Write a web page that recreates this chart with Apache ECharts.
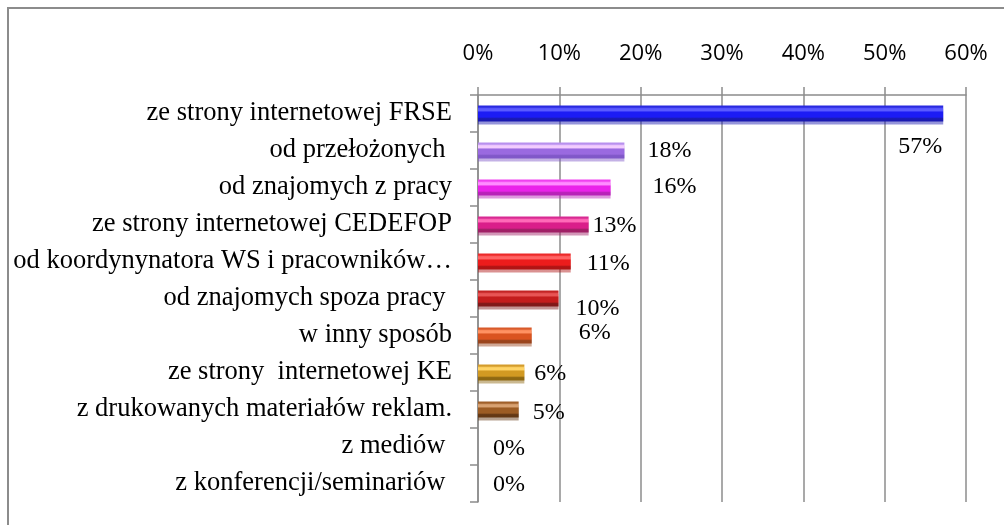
<!DOCTYPE html>
<html>
<head>
<meta charset="utf-8">
<script src="https://cdn.jsdelivr.net/npm/echarts@6/dist/echarts.min.js"></script>
<style>html,body{margin:0;padding:0;background:#fff}#c{width:1004px;height:525px}</style>
</head>
<body>
<div id="c"></div>
<script>
// ---- data ----
var categories = [
  'ze strony internetowej FRSE',
  'od przełożonych ',
  'od znajomych z pracy',
  'ze strony internetowej CEDEFOP',
  'od koordynynatora WS i pracowników…',
  'od znajomych spoza pracy ',
  'w inny sposób',
  'ze strony  internetowej KE',
  'z drukowanych materiałów reklam.',
  'z mediów ',
  'z konferencji/seminariów '
];
var values = [57.2, 18.0, 16.3, 13.6, 11.4, 9.9, 6.6, 5.7, 5.0, 0, 0];
var valueLabels = ['57%', '18%', '16%', '13%', '11%', '10%', '6%', '6%', '5%', '0%', '0%'];
var tickValues = [0, 10, 20, 30, 40, 50, 60];

// ---- styling (not data) ----
var barColors = [
  ['#2a2ae0', '#5a5aff', '#1c1cf4', '#1a1ab0'],
  ['#b890ee', '#f2ccff', '#9a6ae0', '#8058c8'],
  ['#f040f0', '#ff8cff', '#ea22ea', '#b822b8'],
  ['#d82a92', '#ff6ab8', '#da1e8a', '#a02066'],
  ['#ec2a2a', '#ff6464', '#ec1c1c', '#b01414'],
  ['#c42424', '#e85454', '#c41c1c', '#801818'],
  ['#d85a2a', '#ff9262', '#da5420', '#9a441c'],
  ['#d49c2c', '#ffd466', '#d29a22', '#8e6812'],
  ['#a0602a', '#d8a272', '#9c5c24', '#643814'],
  ['#888888', '#aaaaaa', '#888888', '#666666'],
  ['#888888', '#aaaaaa', '#888888', '#666666']
];
var labelOffsets = [[-45, 33], [23, 0], [42, -1], [4, 1], [16, 2], [17, 10], [47, -3], [10, 1], [14, 3], [15, 2], [15, 1]];

var seriesData = values.map(function (v, i) {
  var c = barColors[i];
  return {
    value: v,
    itemStyle: {
      color: new echarts.graphic.LinearGradient(0, 0, 0, 1, [
        { offset: 0, color: c[0] },
        { offset: 0.1, color: c[0] },
        { offset: 0.2, color: c[1] },
        { offset: 0.32, color: c[1] },
        { offset: 0.42, color: c[2] },
        { offset: 0.72, color: c[2] },
        { offset: 0.82, color: c[3] },
        { offset: 1, color: c[3] }
      ]),
      borderWidth: 0,
      shadowColor: c[3] + '77',
      shadowOffsetY: 3,
      shadowOffsetX: 0,
      shadowBlur: 0
    },
    label: { offset: labelOffsets[i] }
  };
});

var chart = echarts.init(document.getElementById('c'), null, { renderer: 'canvas' });
chart.setOption({
  animation: false,
  backgroundColor: '#ffffff',
  graphic: [{
    type: 'rect',
    shape: { x: 8, y: 8, width: 1010, height: 530 },
    style: { fill: 'none', stroke: '#8c8c8c', lineWidth: 2 },
    silent: true
  }],
  grid: { left: 478, right: 38, top: 95, bottom: 23, containLabel: false },
  xAxis: {
    type: 'value',
    position: 'top',
    min: tickValues[0],
    max: tickValues[tickValues.length - 1],
    interval: tickValues[1] - tickValues[0],
    axisLine: { show: true, lineStyle: { color: '#8c8c8c', width: 1.5 } },
    axisTick: { show: true, inside: false, length: 8, lineStyle: { color: '#8c8c8c', width: 1.5 } },
    splitLine: { show: true, lineStyle: { color: '#8c8c8c', width: 1.5 } },
    axisLabel: {
      formatter: '{value}%',
      fontFamily: 'Open Sans',
      fontSize: 22,
      color: '#000',
      margin: 30
    }
  },
  yAxis: {
    type: 'category',
    inverse: true,
    data: categories,
    axisLine: { show: true, lineStyle: { color: '#8c8c8c', width: 1.5 } },
    axisTick: { show: true, inside: false, length: 8, lineStyle: { color: '#8c8c8c', width: 1.5 } },
    splitLine: { show: false },
    axisLabel: {
      fontFamily: 'Liberation Serif',
      fontSize: 26.5,
      color: '#000',
      margin: 26
    }
  },
  series: [{
    type: 'bar',
    data: seriesData,
    barWidth: 16,
    label: {
      show: true,
      position: 'right',
      distance: 0,
      fontFamily: 'Liberation Serif',
      fontSize: 24,
      color: '#000',
      formatter: function (p) { return valueLabels[p.dataIndex]; }
    }
  }]
});
</script>
</body>
</html>
